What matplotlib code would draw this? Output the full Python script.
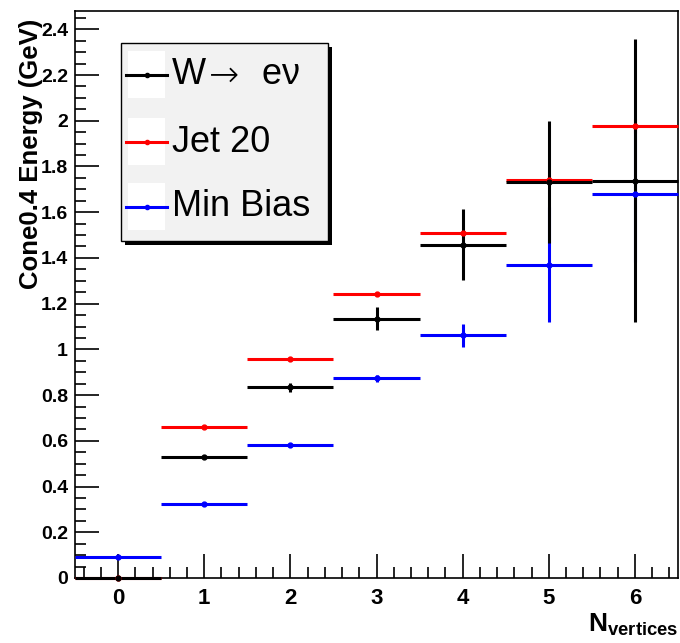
import numpy as np
import matplotlib
matplotlib.use('Agg')
import matplotlib.pyplot as plt
from matplotlib.patches import Rectangle
from matplotlib.lines import Line2D
from matplotlib.ticker import MultipleLocator, FuncFormatter

plt.rcParams['font.family'] = ['Liberation Sans', 'DejaVu Sans']
plt.rcParams['mathtext.fontset'] = 'custom'
plt.rcParams['mathtext.rm'] = 'Liberation Sans'
plt.rcParams['mathtext.bf'] = 'Liberation Sans:bold'

# Data
n_vertices = np.array([0, 1, 2, 3, 4, 5, 6])

w_enu = np.array([0.0, 0.53, 0.834, 1.135, 1.458, 1.733, 1.738])
w_enu_err = np.array([0.0, 0.01, 0.02, 0.05, 0.155, 0.267, 0.62])

jet20 = np.array([0.0, 0.659, 0.956, 1.24, 1.507, 1.742, 1.978])
jet20_err = np.array([0.0, 0.004, 0.005, 0.006, 0.01, 0.02, 0.03])

min_bias = np.array([0.092, 0.323, 0.581, 0.873, 1.061, 1.371, 1.681])
min_bias_err = np.array([0.003, 0.005, 0.006, 0.015, 0.05, 0.25, 0.3])

labels = ['W\u2192 e\u03bd', 'Jet 20', 'Min Bias']
colors = ['black', 'red', 'blue']

W, H = 680, 643
fig = plt.figure(figsize=(W / 100, H / 100), dpi=100)
ax = fig.add_axes([75 / W, 65 / H, 603 / W, 567 / H])

# draw order: Jet, Min Bias, then W on top
for y, yerr, c in [(jet20, jet20_err, colors[1]),
                   (min_bias, min_bias_err, colors[2]),
                   (w_enu, w_enu_err, colors[0])]:
    eb = ax.errorbar(n_vertices, y, xerr=0.5, yerr=yerr, fmt='o', color=c,
                     ms=3.5, elinewidth=2.2, capsize=0, zorder=3)
    for art in eb.get_children():
        art.set_clip_on(False)

ax.set_xlim(-0.5, 6.5)
ax.set_ylim(0, 2.48)

ax.xaxis.set_major_locator(MultipleLocator(1))
ax.xaxis.set_minor_locator(MultipleLocator(0.2))
ax.yaxis.set_major_locator(MultipleLocator(0.2))
ax.yaxis.set_minor_locator(MultipleLocator(0.05))
ax.tick_params(which='both', direction='in', top=False, right=False, width=1.2)
ax.tick_params(which='major', length=17)
ax.tick_params(which='minor', length=8)
ax.tick_params(axis='y', which='both', pad=5, labelsize=14)
ax.tick_params(axis='x', which='both', pad=7, labelsize=16)
ax.yaxis.set_major_formatter(FuncFormatter(lambda v, p: '%g' % round(v, 2)))
for lab in ax.get_xticklabels() + ax.get_yticklabels():
    lab.set_fontweight('bold')

for s in ax.spines.values():
    s.set_linewidth(1.2)

ax.set_ylabel('Cone0.4 Energy (GeV)', fontsize=18.5, fontweight='bold')
ax.yaxis.set_label_coords(-74 / 603 + 30 / 603, (578 - 154) / 567)
ax.yaxis.label.set_va('center')
ax.text(1.0, -0.059, r'N$_{\mathbf{vertices}}$', transform=ax.transAxes,
        ha='right', va='top', fontsize=19, fontweight='bold')


# legend box drawn in figure pixels (from top-left) like the ROOT TLegend
def fx(px):
    return px / W


def fy(py):
    return 1 - py / H


fig.add_artist(Rectangle((fx(125), fy(245)), (328 - 121) / W, (241 - 43) / H,
                         transform=fig.transFigure, facecolor='black', edgecolor='none'))
fig.add_artist(Rectangle((fx(121), fy(241)), (328 - 121) / W, (241 - 43) / H,
                         transform=fig.transFigure, facecolor='#f2f2f2',
                         edgecolor='black', lw=1.0))
for yc, lab, c in zip([75, 142, 207], labels, colors):
    fig.add_artist(Rectangle((fx(128), fy(yc + 23)), 37 / W, 47 / H,
                             transform=fig.transFigure, facecolor='white', edgecolor='none'))
    fig.add_artist(Line2D([fx(126), fx(167)], [fy(yc), fy(yc)], color=c, lw=2.2,
                          transform=fig.transFigure))
    fig.add_artist(Line2D([fx(146.5)], [fy(yc)], color=c, marker='o', ms=3,
                          transform=fig.transFigure))
    if '\u2192' in lab:
        # split so the arrow comes from DejaVu Sans at full size
        head, tail = lab.split('\u2192')
        fig.text(fx(172), fy(yc), head, fontsize=26, va='center', ha='left')
        fig.text(fx(209), fy(yc + 1), '\u2192', fontsize=26, va='center', ha='left',
                 family='DejaVu Sans', fontweight='light')
        fig.text(fx(252), fy(yc), tail, fontsize=26, va='center', ha='left')
    else:
        fig.text(fx(172), fy(yc), lab, fontsize=26, va='center', ha='left')

fig.savefig('out.png', dpi=100)
